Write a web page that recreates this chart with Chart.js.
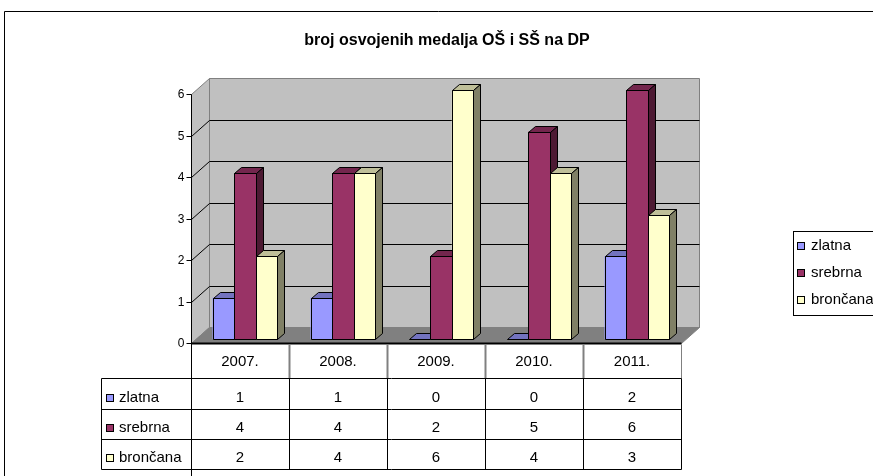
<!DOCTYPE html>
<html>
<head>
<meta charset="utf-8">
<script src="https://cdn.jsdelivr.net/npm/chart.js@4.4.1/dist/chart.umd.min.js"></script>
<style>
  body { margin: 0; background: #fff; }
</style>
</head>
<body>
<canvas id="medalChart" width="873" height="476"></canvas>
<script>
const years = ["2007.", "2008.", "2009.", "2010.", "2011."];
const zlatna = [1, 1, 0, 0, 2];
const srebrna = [4, 4, 2, 5, 6];
const broncana = [2, 4, 6, 4, 3];
const yTicks = [0, 1, 2, 3, 4, 5, 6];
const seriesNames = ["zlatna", "srebrna", "brončana"];
const seriesColors = ["#9999FF", "#993366", "#FFFFCC"];
const titleText = "broj osvojenih medalja OŠ i SŠ na DP";

const FONT = '"Liberation Sans", Arial, sans-serif';

// depth of the walls, shift of the bars into the box, depth of a bar
const wallDepth = { x: 18, y: -16 };
const barShift = { x: 5, y: -4 };
const barDepth = { x: 7, y: -6 };

function shade(hex, f) {
  const n = parseInt(hex.slice(1), 16);
  const r = Math.round(((n >> 16) & 255) * f);
  const g = Math.round(((n >> 8) & 255) * f);
  const b = Math.round((n & 255) * f);
  return `rgb(${r},${g},${b})`;
}

function poly(ctx, pts, fill, stroke) {
  ctx.beginPath();
  ctx.moveTo(pts[0][0], pts[0][1]);
  for (let i = 1; i < pts.length; i++) ctx.lineTo(pts[i][0], pts[i][1]);
  ctx.closePath();
  if (fill) {
    ctx.fillStyle = fill;
    ctx.fill();
  }
  if (stroke) {
    ctx.strokeStyle = stroke;
    ctx.stroke();
  }
}

function line(ctx, x1, y1, x2, y2, color, w) {
  ctx.beginPath();
  ctx.moveTo(x1, y1);
  ctx.lineTo(x2, y2);
  ctx.strokeStyle = color;
  ctx.lineWidth = w || 1;
  ctx.stroke();
}

const px = (v) => Math.round(v) + 0.5;

// walls, floor, grid and value axis
const boxPlugin = {
  id: "box3d",
  beforeDatasetsDraw(chart) {
    const ctx = chart.ctx;
    const a = chart.chartArea;
    const y = chart.scales.y;
    const L = px(a.left), R = px(a.right);
    const T = px(y.getPixelForValue(yTicks[yTicks.length - 1]));
    const Z = px(y.getPixelForValue(0));
    const dx = wallDepth.x, dy = wallDepth.y;

    ctx.save();
    ctx.lineWidth = 1;
    // back wall
    poly(ctx, [[L + dx, T + dy], [R + dx, T + dy], [R + dx, Z + dy], [L + dx, Z + dy]], "#c0c0c0", "#808080");
    // left wall
    poly(ctx, [[L, T], [L + dx, T + dy], [L + dx, Z + dy], [L, Z]], "#c0c0c0", "#808080");
    // floor
    poly(ctx, [[L, Z], [R, Z], [R + dx, Z + dy], [L + dx, Z + dy]], "#808080", "#808080");

    // grid lines
    yTicks.forEach((v) => {
      if (v === 0 || v === yTicks[yTicks.length - 1]) return;
      const py = px(y.getPixelForValue(v));
      ctx.beginPath();
      ctx.moveTo(L, py);
      ctx.lineTo(L + dx, py + dy);
      ctx.lineTo(R + dx, py + dy);
      ctx.strokeStyle = "#000";
      ctx.stroke();
    });

    // value axis, ticks and labels
    line(ctx, L, T, L, chart.height, "#000");
    ctx.font = "12px " + FONT;
    ctx.fillStyle = "#000";
    ctx.textAlign = "right";
    ctx.textBaseline = "middle";
    yTicks.forEach((v) => {
      const py = px(y.getPixelForValue(v));
      line(ctx, L - 5, py, L, py, "#000");
      ctx.fillText(String(v), L - 7, py);
    });
    ctx.restore();

    ctx.save();
    ctx.translate(barShift.x, barShift.y);
  },

  afterDatasetsDraw(chart) {
    const ctx = chart.ctx;
    ctx.lineWidth = 1;
    chart.data.datasets.forEach((ds, i) => {
      const meta = chart.getDatasetMeta(i);
      const base = seriesColors[i];
      meta.data.forEach((bar) => {
        const p = bar.getProps(["x", "y", "base", "width"], true);
        const l = px(p.x - p.width / 2), r = px(p.x + p.width / 2);
        const t = px(p.y), b = px(p.base);
        const bx = barDepth.x, by = barDepth.y;
        if (b > t) poly(ctx, [[l, t], [r, t], [r, b], [l, b]], base, "#000");
        poly(ctx, [[l, t], [r, t], [r + bx, t + by], [l + bx, t + by]], shade(base, 0.75), "#000");
        if (b > t) poly(ctx, [[r, t], [r + bx, t + by], [r + bx, b + by], [r, b]], shade(base, 0.5), "#000");
      });
    });
    ctx.restore();

    drawTable(chart);
    drawLegend(chart);
    drawTitle(chart);
  },
};

function drawTable(chart) {
  const ctx = chart.ctx;
  const a = chart.chartArea;
  const x = chart.scales.x;
  const cw = (a.right - a.left) / years.length;
  const top = px(a.bottom);
  const rows = [top, 378.5, 409.5, 439.5, 469.5];
  const textY = [398, 428, 458];
  const leftEdge = 101.5;

  ctx.save();
  ctx.lineWidth = 1;
  // floor front edge, top of the table
  line(ctx, px(a.left), top, px(a.right), top, "#000", 2);

  // header row
  ctx.font = "15px " + FONT;
  ctx.fillStyle = "#000";
  ctx.textAlign = "center";
  ctx.textBaseline = "middle";
  years.forEach((yr, i) => {
    const cx = x.getPixelForValue(i);
    const xr = px(cx + cw / 2);
    line(ctx, xr, top + 1, xr, rows[1], "#808080", i < years.length - 1 ? 2 : 1);
    ctx.fillText(yr, cx, (rows[0] + rows[1]) / 2 + 1);
  });

  // body rows
  line(ctx, leftEdge, rows[1], px(a.right), rows[1], "#000");
  line(ctx, leftEdge, rows[1], leftEdge, rows[4], "#000");
  for (let r = 2; r < rows.length; r++) line(ctx, leftEdge, rows[r], px(a.right), rows[r], "#000");
  years.forEach((yr, i) => {
    const xr = px(x.getPixelForValue(i) + cw / 2);
    line(ctx, xr, rows[1], xr, rows[4], "#000");
  });

  chart.data.datasets.forEach((ds, s) => {
    const cy = textY[s];
    ctx.fillStyle = seriesColors[s];
    ctx.fillRect(106, cy - 4, 8, 8);
    ctx.strokeStyle = "#000";
    ctx.lineWidth = 1;
    ctx.strokeRect(106.5, cy - 3.5, 7, 7);
    ctx.fillStyle = "#000";
    ctx.textAlign = "left";
    ctx.fillText(ds.label, 119, cy);
    ctx.textAlign = "center";
    ds.data.forEach((v, i) => ctx.fillText(String(v), x.getPixelForValue(i), cy));
  });
  ctx.restore();
}

function drawLegend(chart) {
  const ctx = chart.ctx;
  ctx.save();
  ctx.lineWidth = 1;
  ctx.strokeStyle = "#000";
  ctx.strokeRect(793.5, 231.5, 100, 84);
  ctx.font = "15px " + FONT;
  ctx.textAlign = "left";
  ctx.textBaseline = "middle";
  const ys = [246, 273, 300];
  chart.data.datasets.forEach((ds, s) => {
    ctx.fillStyle = seriesColors[s];
    ctx.fillRect(797, ys[s] - 4, 8, 8);
    ctx.strokeRect(797.5, ys[s] - 3.5, 7, 7);
    ctx.fillStyle = "#000";
    ctx.fillText(ds.label, 811, ys[s]);
  });
  ctx.restore();
}

function drawTitle(chart) {
  const ctx = chart.ctx;
  ctx.save();
  // outer frame of the chart object
  ctx.lineWidth = 1;
  line(ctx, 4.5, 11.5, chart.width, 11.5, "#000");
  line(ctx, 4.5, 11.5, 4.5, chart.height, "#000");
  ctx.font = "bold 16px " + FONT;
  ctx.fillStyle = "#000";
  ctx.textAlign = "center";
  ctx.textBaseline = "middle";
  ctx.fillText(titleText, 447, 41);
  ctx.restore();
}

new Chart(document.getElementById("medalChart"), {
  type: "bar",
  data: {
    labels: years,
    datasets: [
      { label: seriesNames[0], data: zlatna, backgroundColor: seriesColors[0] },
      { label: seriesNames[1], data: srebrna, backgroundColor: seriesColors[1] },
      { label: seriesNames[2], data: broncana, backgroundColor: seriesColors[2] },
    ],
  },
  options: {
    responsive: false,
    devicePixelRatio: 1,
    animation: false,
    layout: { padding: { left: 191, right: 192, top: 94, bottom: 133 } },
    datasets: {
      bar: { categoryPercentage: 0.663, barPercentage: 1, clip: false, borderWidth: 0 },
    },
    scales: {
      x: { display: false, offset: true },
      y: { display: false, min: 0, max: 6, ticks: { stepSize: 1 } },
    },
    plugins: {
      legend: { display: false },
      tooltip: { enabled: false },
      title: { display: false },
    },
  },
  plugins: [boxPlugin],
});
</script>
</body>
</html>
